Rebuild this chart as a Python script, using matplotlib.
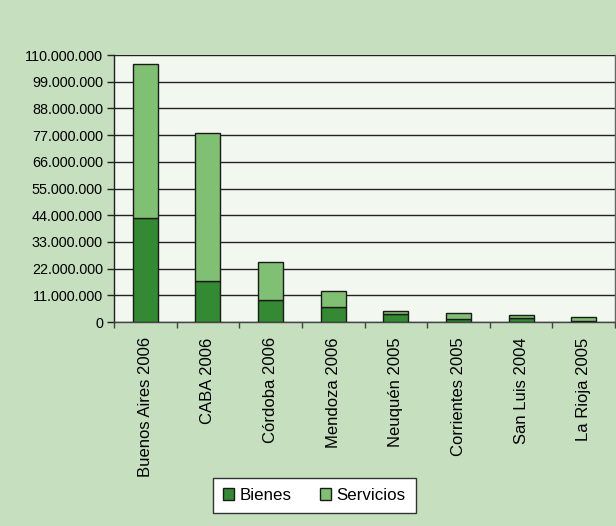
import matplotlib
matplotlib.use("Agg")
import matplotlib.pyplot as plt
from matplotlib.ticker import FixedLocator, FuncFormatter
import numpy as np

categories = ["Buenos Aires 2006", "CABA 2006", "Córdoba 2006", "Mendoza 2006",
              "Neuquén 2005", "Corrientes 2005", "San Luis 2004", "La Rioja 2005"]
bienes = [42.7e6, 16.9e6, 9.2e6, 6.2e6, 3.2e6, 1.4e6, 1.5e6, 0.4e6]
totales = [106.3e6, 77.7e6, 24.8e6, 12.8e6, 4.5e6, 3.7e6, 3.0e6, 2.1e6]
servicios = [t - b for t, b in zip(totales, bienes)]
yticks = [0, 11e6, 22e6, 33e6, 44e6, 55e6, 66e6, 77e6, 88e6, 99e6, 110e6]

plt.rcParams['font.family'] = ['Liberation Sans', 'DejaVu Sans']

fig = plt.figure(figsize=(6.16, 5.26), dpi=100)
fig.patch.set_facecolor('#c5dfbf')
ax = fig.add_axes([114/616, 1-322/526, (615-114)/616, (322-55)/526])
ax.set_facecolor('#f2f7f0')

x = np.arange(len(categories))
dark = '#338a33'
light = '#80c072'
b1 = ax.bar(x, bienes, width=0.4, color=dark, edgecolor='#1a1a1a', linewidth=1, label='Bienes', zorder=3)
b2 = ax.bar(x, servicios, bottom=bienes, width=0.4, color=light, edgecolor='#1a1a1a', linewidth=1, label='Servicios', zorder=3)

ax.set_xlim(-0.5, len(categories) - 0.5)
ax.set_ylim(0, 110e6)
ax.set_yticks(yticks)
ax.yaxis.set_major_formatter(FuncFormatter(lambda v, p: f"{int(round(v)):,}".replace(",", ".")))
ax.yaxis.grid(True, color='#222222', linewidth=1)
ax.set_axisbelow(True)

ax.set_xticks(x)
ax.set_xticklabels(categories, rotation=90, fontsize=12)
ax.tick_params(axis='x', which='major', length=0, pad=11)
ax.xaxis.set_minor_locator(FixedLocator(np.arange(-0.5, len(categories), 1.0)))
ax.tick_params(axis='x', which='minor', length=4, width=1, color='#444444', direction='out')
ax.tick_params(axis='y', length=5, width=1, color='#222222', labelsize=10.4, pad=3)

for s in ['top']:
    ax.spines[s].set_visible(False)
ax.spines['left'].set_color('#222222')
ax.spines['bottom'].set_color('#444444')
ax.spines['right'].set_color('#666666')
for s in ax.spines.values():
    s.set_linewidth(1)

leg = fig.legend(handles=[b1, b2], labels=['Bienes', 'Servicios'], loc='center',
                 bbox_to_anchor=(314.5/616, 1-495.5/526), ncol=2, frameon=True,
                 fancybox=False, edgecolor='#333333', facecolor='white', fontsize=12.2,
                 handlelength=0.65, handleheight=0.7, handletextpad=0.3, columnspacing=1.7,
                 borderpad=0.6)
leg.get_frame().set_linewidth(1)
leg.get_frame().set_alpha(1)

fig.savefig('out.png', dpi=100, facecolor=fig.get_facecolor())
